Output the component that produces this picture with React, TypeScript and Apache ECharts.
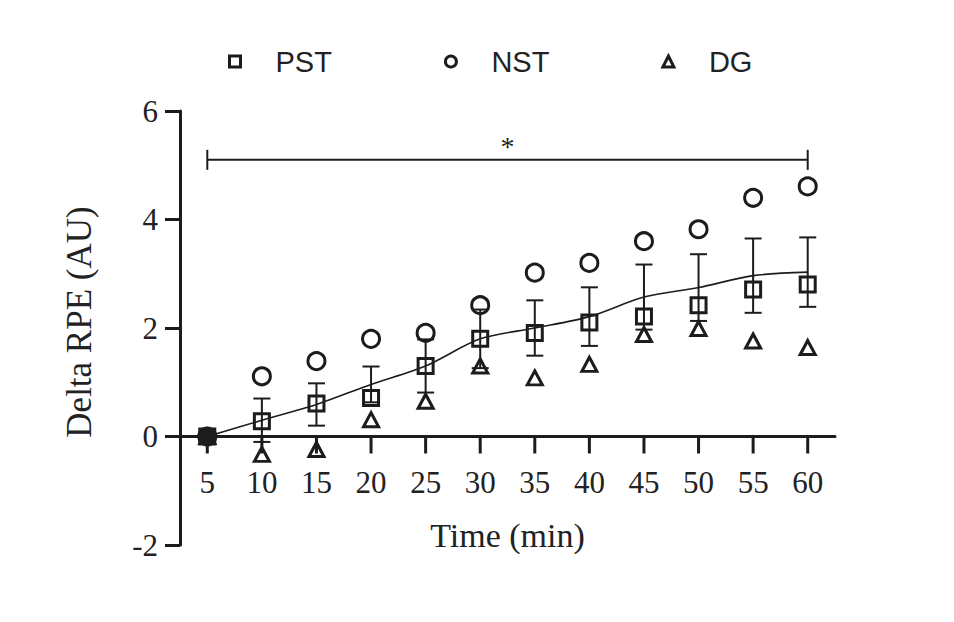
import React, { useEffect, useRef } from "react";
import * as echarts from "echarts";

const timeLabels = ["5", "10", "15", "20", "25", "30", "35", "40", "45", "50", "55", "60"];
const pstValues = [0, 0.28, 0.61, 0.71, 1.3, 1.8, 1.91, 2.1, 2.21, 2.42, 2.71, 2.8];
const nstValues = [0, 1.11, 1.39, 1.8, 1.91, 2.42, 3.02, 3.2, 3.6, 3.82, 4.4, 4.61];
const dgValues = [0, -0.33, -0.24, 0.31, 0.65, 1.3, 1.08, 1.33, 1.88, 1.99, 1.76, 1.64];
const meanValues = [0, 0.3, 0.59, 0.96, 1.3, 1.8, 2.0, 2.21, 2.57, 2.745, 2.965, 3.03];
const sdValues = [0, 0.4, 0.39, 0.33, 0.49, 0.54, 0.51, 0.54, 0.6, 0.615, 0.685, 0.64];
const yMin = -2;
const yMax = 6;
const yInterval = 2;
const sigBar = [[0, 11, 5.1]];
const sigLabel = "*";

const INK = "#1c1c1c";
const SERIF = "'Liberation Serif', 'Times New Roman', serif";
const SANS = "'Liberation Sans', Arial, sans-serif";

export default function App() {
  const ref = useRef<HTMLDivElement>(null);

  useEffect(() => {
    if (!ref.current) return;
    const chart = echarts.init(ref.current, undefined, { renderer: "svg" });
    const markerStyle = { color: "transparent", borderColor: INK, borderWidth: 3, opacity: 1 };
    const gridTop = 111;
    const gridBottom = 77;
    const gridHeight = 622 - gridTop - gridBottom;
    // shift the x axis up to the y = 0 level
    const zeroOffset = -gridHeight * (0 - yMin) / (yMax - yMin);

    const option: any = {
      animation: false,
      backgroundColor: "#ffffff",
      legend: {
        data: [
          { name: "PST", icon: "rect", itemStyle: { color: "transparent", borderColor: INK, borderWidth: 3 } },
          { name: "NST", icon: "circle", itemStyle: { color: "transparent", borderColor: INK, borderWidth: 3 } },
          { name: "DG", icon: "triangle", itemStyle: { color: "transparent", borderColor: INK, borderWidth: 3 } },
        ],
        left: 223,
        top: 42,
        itemWidth: 11,
        itemHeight: 11,
        itemGap: 112,
        textStyle: {
          fontFamily: SANS,
          fontSize: 29,
          color: "#222",
          padding: [0, 0, 0, 30],
        },
      },
      grid: { left: 180, right: 119, top: gridTop, bottom: gridBottom, outerBoundsMode: "none", containLabel: false },
      xAxis: {
        type: "category",
        data: timeLabels,
        boundaryGap: true,
        position: "bottom",
        offset: zeroOffset,
        name: "Time (min)",
        nameLocation: "middle",
        nameGap: 82,
        nameTextStyle: { fontFamily: SERIF, fontSize: 34, color: "#222" },
        axisLine: { onZero: false, lineStyle: { color: INK, width: 3 } },
        axisTick: { show: false },
        axisLabel: { interval: 0, margin: 30, fontFamily: SERIF, fontSize: 31, color: "#222" },
        splitLine: { show: false },
      },
      yAxis: {
        type: "value",
        min: yMin,
        max: yMax,
        interval: yInterval,
        name: "Delta RPE (AU)",
        nameLocation: "middle",
        nameGap: 83,
        nameTextStyle: { fontFamily: SERIF, fontSize: 35, color: "#222", padding: [0, 0, 0, 12] },
        axisLine: { show: true, onZero: false, lineStyle: { color: INK, width: 3 } },
        axisTick: { show: true, length: 15, lineStyle: { color: INK, width: 3 } },
        axisLabel: { margin: 22, fontFamily: SERIF, fontSize: 31, color: "#222" },
        splitLine: { show: false },
      },
      series: [
        {
          name: "Mean",
          type: "line",
          data: meanValues,
          symbol: "none",
          smooth: 0.3,
          lineStyle: { color: INK, width: 1.6 },
          z: 2,
        },
        {
          name: "SD",
          type: "custom",
          data: meanValues.map((m, i) => [i, m, sdValues[i]]),
          encode: { x: 0, y: 1 },
          z: 3,
          renderItem: (params: any, api: any) => {
            const i = api.value(0);
            const m = api.value(1);
            const s = api.value(2);
            if (!s) return { type: "group", children: [] };
            const top = api.coord([i, m + s]);
            const bot = api.coord([i, m - s]);
            const hw = 8.5;
            const style = { stroke: INK, lineWidth: 2 };
            return {
              type: "group",
              children: [
                { type: "line", shape: { x1: top[0], y1: top[1], x2: bot[0], y2: bot[1] }, style },
                { type: "line", shape: { x1: top[0] - hw, y1: top[1], x2: top[0] + hw, y2: top[1] }, style },
                { type: "line", shape: { x1: bot[0] - hw, y1: bot[1], x2: bot[0] + hw, y2: bot[1] }, style },
              ],
            };
          },
        },
        {
          name: "Significance",
          type: "custom",
          data: sigBar,
          encode: { x: 0, y: 2 },
          z: 3,
          renderItem: (params: any, api: any) => {
            const a = api.coord([api.value(0), api.value(2)]);
            const b = api.coord([api.value(1), api.value(2)]);
            const cap = 10;
            const style = { stroke: INK, lineWidth: 2 };
            return {
              type: "group",
              children: [
                { type: "line", shape: { x1: a[0], y1: a[1], x2: b[0], y2: b[1] }, style },
                { type: "line", shape: { x1: a[0], y1: a[1] - cap, x2: a[0], y2: a[1] + cap }, style },
                { type: "line", shape: { x1: b[0], y1: b[1] - cap, x2: b[0], y2: b[1] + cap }, style },
                {
                  type: "text",
                  x: (a[0] + b[0]) / 2,
                  y: a[1] - 13,
                  style: {
                    text: sigLabel,
                    fontFamily: SERIF,
                    fontSize: 28,
                    fill: INK,
                    align: "center",
                    verticalAlign: "middle",
                  },
                },
              ],
            };
          },
        },
        {
          name: "DG",
          type: "scatter",
          data: dgValues,
          symbol: "triangle",
          symbolSize: [15, 14],
          itemStyle: markerStyle,
          z: 4,
        },
        {
          name: "NST",
          type: "scatter",
          data: nstValues,
          symbol: "circle",
          symbolSize: 17,
          itemStyle: markerStyle,
          z: 4,
        },
        {
          name: "PST",
          type: "scatter",
          data: pstValues.map((v, i) =>
            i === 0 ? { value: v, itemStyle: { color: INK } } : v
          ),
          symbol: "rect",
          symbolSize: 15,
          itemStyle: markerStyle,
          z: 5,
        },
      ],
    };

    chart.setOption(option);

    // x-axis tick marks hanging below the zero line, placed through the chart's own scales
    const ticks = timeLabels.map((_, i) => {
      const p = chart.convertToPixel({ gridIndex: 0 }, [i, 0]) as number[];
      return {
        type: "rect",
        z: 100,
        silent: true,
        shape: { x: p[0] - 1.5, y: p[1], width: 3, height: 17 },
        style: { fill: INK },
      };
    });
    chart.setOption({ graphic: { elements: ticks } });

    return () => chart.dispose();
  }, []);

  return (
    <div
      ref={ref}
      style={{ position: "fixed", left: 0, top: 0, width: 954, height: 622, background: "#fff" }}
    />
  );
}
